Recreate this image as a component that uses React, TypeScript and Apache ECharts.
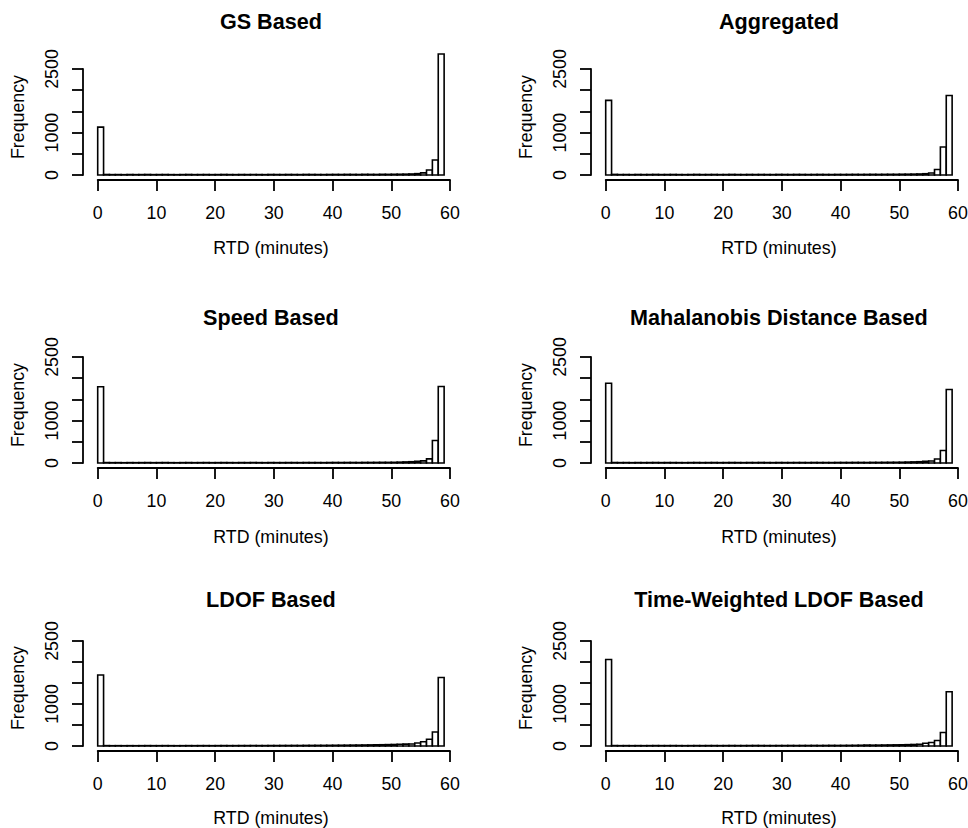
import React, { useEffect, useRef } from "react";
import * as echarts from "echarts";

// Bin edges (1-minute bins from 0 to 59)
const BIN_EDGES = [
  0, 1, 2, 3, 4, 5, 6, 7, 8, 9, 10, 11, 12, 13, 14, 15, 16, 17, 18, 19, 20,
  21, 22, 23, 24, 25, 26, 27, 28, 29, 30, 31, 32, 33, 34, 35, 36, 37, 38, 39,
  40, 41, 42, 43, 44, 45, 46, 47, 48, 49, 50, 51, 52, 53, 54, 55, 56, 57, 58,
  59,
];

const GS_COUNTS = [
  1130,
  12, 9, 10, 8, 11, 9, 10, 12, 9, 10,
  11, 9, 8, 10, 12, 9, 10, 11, 9, 10,
  12, 10, 9, 11, 10, 13, 10, 9, 12, 11,
  10, 12, 11, 10, 13, 12, 11, 10, 12, 13,
  12, 14, 13, 12, 15, 14, 13, 16, 15, 17,
  18, 20,
  24, 32, 50, 118, 354, 2855,
];

const AGGREGATED_COUNTS = [
  1760,
  14, 10, 11, 9, 12, 10, 11, 13, 10, 11,
  12, 10, 9, 11, 13, 10, 11, 12, 10, 11,
  13, 11, 10, 12, 11, 12, 11, 10, 13, 12,
  11, 13, 12, 11, 12, 13, 12, 11, 13, 12,
  13, 14, 13, 14, 15, 14, 15, 16, 16, 18,
  19, 21,
  24, 30, 48, 128, 660, 1875,
];

const SPEED_COUNTS = [
  1800,
  10, 8, 9, 7, 9, 8, 9, 10, 8, 9,
  10, 8, 7, 9, 10, 8, 9, 10, 8, 9,
  10, 9, 8, 10, 9, 11, 9, 8, 10, 9,
  9, 10, 10, 9, 11, 10, 10, 9, 11, 12,
  11, 12, 12, 11, 13, 13, 14, 15, 15, 16,
  20, 25,
  30, 38, 50, 97, 530, 1805,
];

const MAHALANOBIS_COUNTS = [
  1880,
  11, 9, 10, 8, 10, 9, 10, 11, 9, 10,
  10, 9, 8, 10, 11, 9, 10, 11, 9, 10,
  11, 10, 9, 11, 10, 12, 10, 9, 11, 10,
  10, 11, 11, 10, 12, 11, 11, 10, 12, 12,
  12, 13, 13, 12, 14, 14, 15, 16, 17, 18,
  22, 26,
  30, 38, 48, 94, 295, 1735,
];

const LDOF_COUNTS = [
  1690,
  9, 7, 8, 7, 8, 7, 8, 9, 8, 8,
  9, 8, 7, 8, 9, 8, 9, 9, 8, 9,
  10, 9, 9, 10, 10, 11, 10, 10, 11, 11,
  12, 12, 13, 12, 14, 14, 15, 15, 16, 17,
  18, 19, 21, 22, 24, 26, 28, 30, 33, 36,
  40, 44,
  48, 70, 100, 160, 332, 1630,
];

const TW_LDOF_COUNTS = [
  2060,
  10, 8, 9, 8, 9, 8, 9, 10, 9, 9,
  10, 9, 8, 9, 10, 9, 10, 10, 9, 10,
  11, 10, 10, 11, 12, 11, 10, 10, 11, 11,
  12, 11, 12, 12, 13, 12, 13, 14, 13, 14,
  15, 16, 18, 22, 20, 21, 23, 25, 27, 29,
  32, 36,
  42, 64, 85, 130, 320, 1290,
];

const PANEL_TITLES = [
  "GS Based",
  "Aggregated",
  "Speed Based",
  "Mahalanobis Distance Based",
  "LDOF Based",
  "Time-Weighted LDOF Based",
];

const PANEL_COUNTS = [
  GS_COUNTS,
  AGGREGATED_COUNTS,
  SPEED_COUNTS,
  MAHALANOBIS_COUNTS,
  LDOF_COUNTS,
  TW_LDOF_COUNTS,
];

const X_TICK_MAX = 60;
const X_TICK_STEP = 10;
const Y_TICK_MAX = 2500;
const Y_TICK_STEP = 500;
const Y_LABELS_SHOWN = [0, 1000, 2500];
const X_TITLE = "RTD (minutes)";
const Y_TITLE = "Frequency";

const FONT = "'Liberation Sans', Arial, Helvetica, sans-serif";
const FS = 17.8;
const TITLE_FS = 21.6;

// Layout (pixels)
const COL_X0 = [97.7, 605.7];
const PLOT_W = 352.3;
const ROWS = [
  { top: 69, bottom: 175, title: 22, xname: 248 },
  { top: 357, bottom: 463, title: 318, xname: 537 },
  { top: 641, bottom: 746, title: 600, xname: 818 },
];

export default function App() {
  const ref = useRef<HTMLDivElement>(null);

  useEffect(() => {
    if (!ref.current) return;
    const chart = echarts.init(ref.current, null, { renderer: "svg" });

    const grids: any[] = [];
    const xAxes: any[] = [];
    const yAxes: any[] = [];
    const series: any[] = [];
    const titles: any[] = [];
    const graphics: any[] = [];

    const lineStyle = { color: "#000", width: 1.8 };

    PANEL_TITLES.forEach((title, i) => {
      const col = i % 2;
      const row = ROWS[Math.floor(i / 2)];
      const x0 = COL_X0[col];
      const unit = PLOT_W / X_TICK_MAX;
      const cx = x0 + 29.5 * unit;

      grids.push({
        left: x0,
        width: PLOT_W,
        top: row.top,
        height: row.bottom - row.top,
        containLabel: false,
        outerBoundsMode: "none",
      });

      xAxes.push({
        type: "value",
        gridIndex: i,
        min: 0,
        max: X_TICK_MAX,
        interval: X_TICK_STEP,
        offset: 5,
        axisLine: { show: true, onZero: false, lineStyle },
        axisTick: { show: true, length: 11, lineStyle },
        axisLabel: {
          show: true,
          margin: 24,
          color: "#000",
          fontSize: FS,
          fontFamily: FONT,
          showMinLabel: true,
          showMaxLabel: true,
        },
        splitLine: { show: false },
      });

      yAxes.push({
        type: "value",
        gridIndex: i,
        min: 0,
        max: Y_TICK_MAX,
        interval: Y_TICK_STEP,
        offset: 14.7,
        axisLine: { show: true, onZero: false, lineStyle },
        axisTick: { show: true, length: 11, lineStyle },
        axisLabel: {
          show: true,
          rotate: 90,
          margin: 22,
          color: "#000",
          fontSize: FS,
          fontFamily: FONT,
          showMinLabel: true,
          showMaxLabel: true,
          formatter: (v: number) =>
            Y_LABELS_SHOWN.indexOf(v) >= 0 ? String(v) : "",
        },
        splitLine: { show: false },
      });

      const counts = PANEL_COUNTS[i];
      const data = counts.map((c, k) => [BIN_EDGES[k], BIN_EDGES[k + 1], c]);

      series.push({
        type: "custom",
        xAxisIndex: i,
        yAxisIndex: i,
        clip: false,
        silent: true,
        encode: { x: [0, 1], y: 2 },
        data,
        renderItem: (params: any, api: any) => {
          const a = api.coord([api.value(0), api.value(2)]);
          const b = api.coord([api.value(1), 0]);
          return {
            type: "rect",
            shape: { x: a[0], y: a[1], width: b[0] - a[0], height: b[1] - a[1] },
            style: { fill: "#fff", stroke: "#000", lineWidth: 1.6 },
          };
        },
      });

      titles.push({
        text: title,
        left: cx,
        top: row.title - 12,
        textAlign: "center",
        padding: 0,
        textStyle: {
          fontSize: TITLE_FS,
          fontWeight: "bold",
          color: "#000",
          fontFamily: FONT,
        },
      });

      graphics.push({
        type: "text",
        x: cx,
        y: row.xname,
        style: {
          text: X_TITLE,
          align: "center",
          verticalAlign: "middle",
          fontSize: FS,
          fontFamily: FONT,
          fill: "#000",
        },
      });

      graphics.push({
        type: "text",
        x: x0 - 14.7 - 65,
        y: row.bottom - 58,
        rotation: Math.PI / 2,
        style: {
          text: Y_TITLE,
          align: "center",
          verticalAlign: "middle",
          fontSize: FS,
          fontFamily: FONT,
          fill: "#000",
        },
      });
    });

    chart.setOption({
      animation: false,
      backgroundColor: "#fff",
      textStyle: { fontFamily: FONT },
      title: titles,
      grid: grids,
      xAxis: xAxes,
      yAxis: yAxes,
      series,
      graphic: graphics,
    });

    return () => chart.dispose();
  }, []);

  return (
    <div
      ref={ref}
      style={{ position: "fixed", left: 0, top: 0, width: 968, height: 828 }}
    />
  );
}
